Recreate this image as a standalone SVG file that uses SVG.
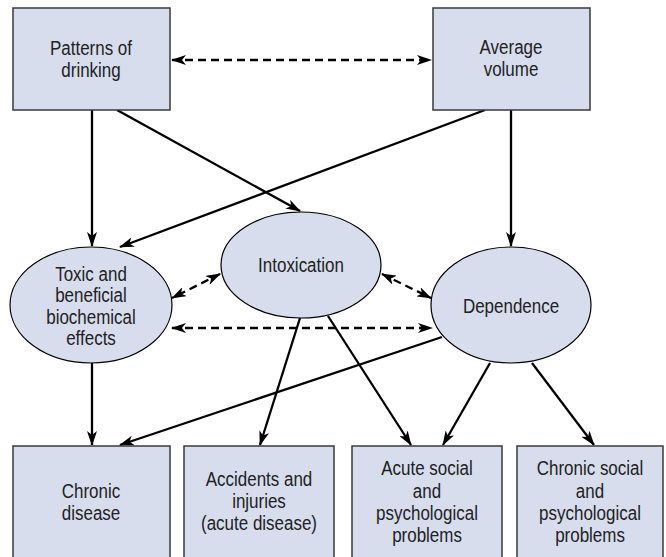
<svg xmlns="http://www.w3.org/2000/svg" width="666" height="557" viewBox="0 0 666 557">
<defs>
<marker id="ah" viewBox="0 0 15 10" refX="14" refY="5" markerWidth="15" markerHeight="10" markerUnits="userSpaceOnUse" orient="auto-start-reverse">
<path d="M0,0 L15,5 L0,10 L4,5 Z" fill="#000"/>
</marker>
</defs>
<style>
.box{fill:#d8ddee;stroke:#3a3a3a;stroke-width:1.5}
.ell{fill:#d8ddee;stroke:#000;stroke-width:1.2}
.t{font-family:"Liberation Sans",Arial,sans-serif;font-size:19.5px;fill:#222;text-anchor:middle}
.c{fill:none;stroke:#000;stroke-width:2.3}
.d{fill:none;stroke:#000;stroke-width:2.3;stroke-dasharray:8,5}
</style>
<rect width="666" height="557" fill="#fff"/>
<g id="connectors">
<line class="d" x1="172" y1="60" x2="431" y2="60" marker-start="url(#ah)" marker-end="url(#ah)"/>
<line class="c" x1="92" y1="110" x2="92" y2="246" marker-end="url(#ah)"/>
<line class="c" x1="117" y1="110" x2="300" y2="211" marker-end="url(#ah)"/>
<line class="c" x1="485" y1="110" x2="120" y2="247" marker-end="url(#ah)"/>
<line class="c" x1="511" y1="110" x2="511" y2="246" marker-end="url(#ah)"/>
<line class="d" x1="220" y1="274" x2="172" y2="298" marker-start="url(#ah)" marker-end="url(#ah)"/>
<line class="d" x1="382" y1="274" x2="431" y2="298" marker-start="url(#ah)" marker-end="url(#ah)"/>
<line class="d" x1="172" y1="328" x2="432" y2="328" marker-start="url(#ah)" marker-end="url(#ah)"/>
<line class="c" x1="92" y1="363" x2="92" y2="445" marker-end="url(#ah)"/>
<line class="c" x1="442" y1="337" x2="120" y2="445" marker-end="url(#ah)"/>
<line class="c" x1="300" y1="318" x2="260" y2="445" marker-end="url(#ah)"/>
<line class="c" x1="328" y1="316" x2="411" y2="445" marker-end="url(#ah)"/>
<line class="c" x1="490" y1="363" x2="443" y2="445" marker-end="url(#ah)"/>
<line class="c" x1="532" y1="363" x2="594" y2="445" marker-end="url(#ah)"/>
</g>
<g id="patterns">
<rect class="box" x="13" y="8" width="157" height="102"/>
<g transform="translate(91 0) scale(0.87 1)">
<text class="t" x="0" y="55">Patterns of</text>
<text class="t" x="0" y="77">drinking</text>
</g>
</g>
<g id="average">
<rect class="box" x="433" y="8" width="157" height="102"/>
<g transform="translate(511 0) scale(0.87 1)">
<text class="t" x="0" y="54">Average</text>
<text class="t" x="0" y="76">volume</text>
</g>
</g>
<g id="toxic">
<ellipse class="ell" cx="91" cy="305" rx="81" ry="58"/>
<g transform="translate(91 0) scale(0.87 1)">
<text class="t" x="0" y="281">Toxic and</text>
<text class="t" x="0" y="302">beneficial</text>
<text class="t" x="0" y="324">biochemical</text>
<text class="t" x="0" y="345">effects</text>
</g>
</g>
<g id="intoxication">
<ellipse class="ell" cx="301" cy="265" rx="80" ry="53"/>
<g transform="translate(301 0) scale(0.87 1)">
<text class="t" x="0" y="272">Intoxication</text>
</g>
</g>
<g id="dependence">
<ellipse class="ell" cx="511" cy="305" rx="80" ry="58"/>
<g transform="translate(511 0) scale(0.87 1)">
<text class="t" x="0" y="313">Dependence</text>
</g>
</g>
<g id="chronic-disease">
<rect class="box" x="13" y="446" width="157" height="120"/>
<g transform="translate(91 0) scale(0.87 1)">
<text class="t" x="0" y="498">Chronic</text>
<text class="t" x="0" y="520">disease</text>
</g>
</g>
<g id="accidents">
<rect class="box" x="184" y="446" width="150" height="120"/>
<g transform="translate(259 0) scale(0.87 1)">
<text class="t" x="0" y="486">Accidents and</text>
<text class="t" x="0" y="508">injuries</text>
<text class="t" x="0" y="530">(acute disease)</text>
</g>
</g>
<g id="acute-social">
<rect class="box" x="352" y="446" width="150" height="120"/>
<g transform="translate(427 0) scale(0.87 1)">
<text class="t" x="0" y="475">Acute social</text>
<text class="t" x="0" y="498">and</text>
<text class="t" x="0" y="520">psychological</text>
<text class="t" x="0" y="542">problems</text>
</g>
</g>
<g id="chronic-social">
<rect class="box" x="517" y="446" width="146" height="120"/>
<g transform="translate(590 0) scale(0.87 1)">
<text class="t" x="0" y="475">Chronic social</text>
<text class="t" x="0" y="498">and</text>
<text class="t" x="0" y="520">psychological</text>
<text class="t" x="0" y="542">problems</text>
</g>
</g>
</svg>
